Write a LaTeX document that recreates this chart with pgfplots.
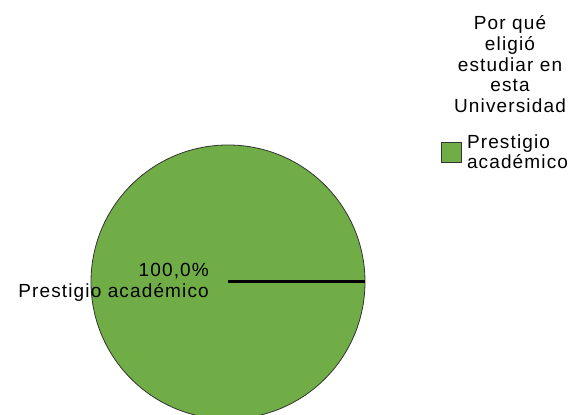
\documentclass[border=0pt]{standalone}
\usepackage{pgfplots}
\pgfplotsset{compat=1.18}
\usepackage{pgfplotstable}
\usepackage{fontspec}
\setmainfont[LetterSpace=6]{Liberation Sans}
\definecolor{piegreen}{HTML}{70AD47}
\definecolor{edge}{HTML}{333333}

% one slice: category and percentage
\pgfplotstableread[col sep=comma]{
label,value
Prestigio académico,100
}\pietable

\begin{document}
\fontsize{19bp}{20.8bp}\selectfont
\begin{tikzpicture}
\useasboundingbox (0,0) rectangle (577bp,415bp);
\pgfplotstablegetelem{0}{value}\of\pietable
\pgfmathsetmacro{\pval}{\pgfplotsretval}
\pgfmathsetmacro{\sweep}{3.6*\pval}
\pgfplotstablegetelem{0}{label}\of\pietable
\let\plabel\pgfplotsretval
\begin{axis}[
    at={(0,0)}, anchor=south west,
    scale only axis, width=577bp, height=415bp,
    xmin=0, xmax=577, ymin=0, ymax=415,
    hide axis, clip=true,
    /pgf/number format/assume math mode=true,
    legend style={draw=none, fill=none, at={(axis cs:441,281)}, anchor=north west,
        inner sep=0pt, row sep=0pt,
        /tikz/every odd column/.append style={column sep=4bp},
        nodes={align=left, inner sep=1bp, font=\fontsize{19bp}{19.5bp}\selectfont}},
    legend cell align=left,
    legend image code/.code={
        \draw[fill=piegreen, draw=edge, line width=0.8bp] (0bp,-9bp) rectangle (20bp,11bp);},
]
\addlegendimage{fill=piegreen}
\addlegendentry{Prestigio\\académico}

% pie slice drawn from the table value
\filldraw[fill=piegreen, draw=edge, line width=0.8bp]
    (axis cs:228,133) -- ++(0:137bp) arc[start angle=0, end angle=\sweep, radius=137bp] -- cycle;
\draw[line width=3bp, black] (axis cs:228,133) -- ++(0:137bp);

\node[anchor=base east, inner sep=0pt] at (axis cs:209,138) {\pgfmathprintnumber[fixed, fixed zerofill, precision=1, use comma]{\pval}\%};
\node[anchor=base east, inner sep=0pt] at (axis cs:209,117) {\plabel};

% legend title
\node[anchor=base, inner sep=0pt] at (axis cs:510,385) {Por qué};
\node[anchor=base, inner sep=0pt] at (axis cs:510,364) {eligió};
\node[anchor=base, inner sep=0pt] at (axis cs:510,343) {estudiar en};
\node[anchor=base, inner sep=0pt] at (axis cs:510,323) {esta};
\node[anchor=base, inner sep=0pt] at (axis cs:510,302) {Universidad};
\end{axis}
\end{tikzpicture}
\end{document}
